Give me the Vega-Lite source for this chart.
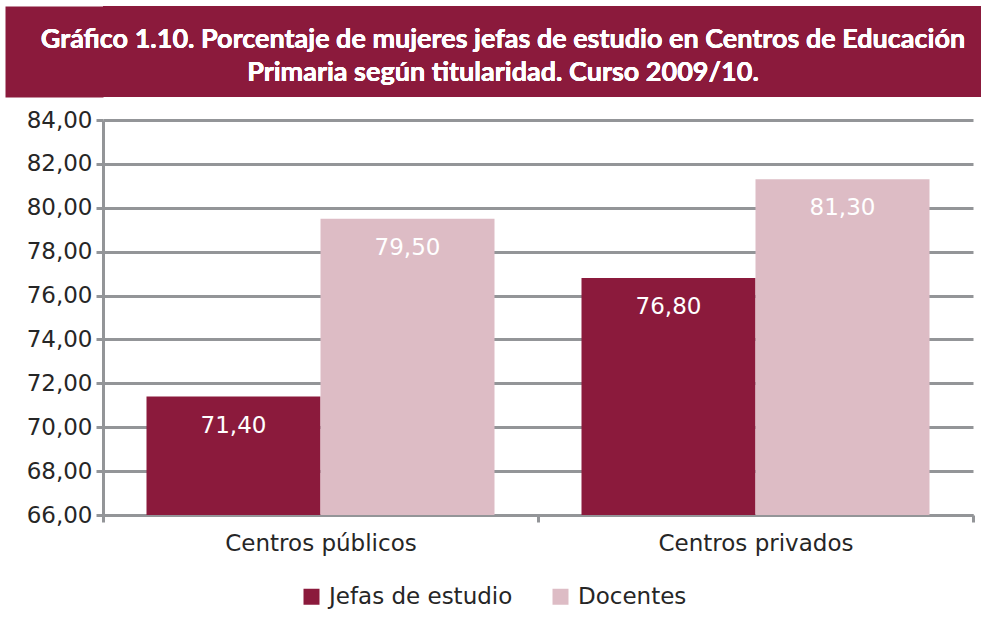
{
  "$schema": "https://vega.github.io/schema/vega-lite/v6.json",
  "background": "white",
  "padding": {"left": 5, "top": 6, "right": 0, "bottom": 0},
  "spacing": 12,
  "config": {
    "locale": {"number": {"decimal": ",", "thousands": ".", "grouping": [3], "currency": ["", " €"]}},
    "font": "DejaVu Sans",
    "view": {"stroke": null},
    "legend": {"layout": {"bottom": {"anchor": "middle"}}}
  },
  "data": {
    "values": [
      {"centro": "Centros públicos", "serie": "Jefas de estudio", "valor": 71.4},
      {"centro": "Centros públicos", "serie": "Docentes", "valor": 79.5},
      {"centro": "Centros privados", "serie": "Jefas de estudio", "valor": 76.8},
      {"centro": "Centros privados", "serie": "Docentes", "valor": 81.3}
    ]
  },
  "vconcat": [
    {
      "width": 878,
      "height": 91,
      "view": {"fill": "#8B1A3C", "stroke": null},
      "mark": {
        "type": "text",
        "text": ["Gráfico 1.10. Porcentaje de mujeres jefas de estudio en Centros de Educación", "Primaria según titularidad. Curso 2009/10."],
        "font": "Lato",
        "fontWeight": "bold",
        "fontSize": 27,
        "lineHeight": 33,
        "color": "white",
        "align": "center",
        "baseline": "middle",
        "dx": -39,
        "dy": -12
      },
      "encoding": {
        "y": {
          "datum": 0,
          "type": "quantitative",
          "scale": {"domain": [-1, 1]},
          "axis": {
            "title": null,
            "labels": false,
            "ticks": false,
            "grid": false,
            "domain": true,
            "domainColor": "#8B1A3C",
            "domainWidth": 98,
            "offset": 49,
            "minExtent": 0
          }
        }
      }
    },
    {
      "width": 870,
      "height": 395,
      "encoding": {
        "x": {
          "field": "centro",
          "type": "nominal",
          "sort": ["Centros públicos", "Centros privados"],
          "scale": {"paddingInner": 0, "paddingOuter": 0},
          "axis": {
            "title": null,
            "labelAngle": 0,
            "labelFontSize": 23,
            "labelColor": "#262626",
            "labelPadding": 10,
            "labelLimit": 0,
            "tickBand": "extent",
            "tickSize": 7,
            "tickWidth": 3,
            "tickColor": "#939598",
            "domainColor": "#939598",
            "domainWidth": 3
          }
        },
        "xOffset": {
          "field": "serie",
          "type": "nominal",
          "sort": ["Jefas de estudio", "Docentes"],
          "scale": {"paddingInner": 0, "paddingOuter": 0.25}
        },
        "y": {
          "field": "valor",
          "type": "quantitative",
          "scale": {"domain": [66, 84], "zero": false, "nice": false},
          "axis": {
            "title": null,
            "values": [66, 68, 70, 72, 74, 76, 78, 80, 82, 84],
            "format": ".2f",
            "labelFontSize": 23,
            "labelColor": "#262626",
            "labelPadding": 4,
            "tickSize": 7,
            "tickWidth": 3,
            "tickColor": "#939598",
            "domainColor": "#939598",
            "domainWidth": 3,
            "gridColor": "#939598",
            "gridWidth": 3,
            "minExtent": 98
          }
        }
      },
      "layer": [
        {
          "mark": {"type": "bar"},
          "encoding": {
            "y2": {"datum": 66},
            "color": {
              "field": "serie",
              "type": "nominal",
              "sort": ["Jefas de estudio", "Docentes"],
              "scale": {"domain": ["Jefas de estudio", "Docentes"], "range": ["#8B1A3C", "#DDBCC5"]},
              "legend": {
                "title": null,
                "orient": "bottom",
                "direction": "horizontal",
                "symbolType": "square",
                "symbolSize": 256,
                "symbolStrokeWidth": 0,
                "labelFontSize": 23,
                "labelColor": "#262626",
                "labelLimit": 0,
                "labelOffset": 6,
                "columnPadding": 36,
                "offset": 30
              }
            }
          }
        },
        {
          "mark": {"type": "text", "color": "white", "fontSize": 23, "baseline": "middle", "dy": 29},
          "encoding": {
            "text": {"field": "valor", "type": "quantitative", "format": ".2f"}
          }
        }
      ]
    }
  ]
}
